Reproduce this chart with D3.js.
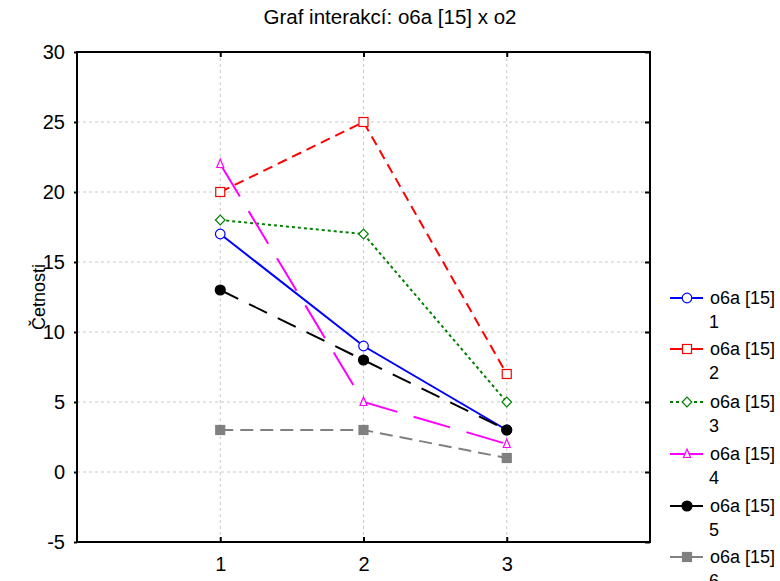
<!DOCTYPE html>
<html><head><meta charset="utf-8">
<script src="https://cdn.jsdelivr.net/npm/d3@7"></script>
<style>body{margin:0;background:#fff}svg{display:block;font-family:"Liberation Sans",Arial,sans-serif}</style>
</head><body><svg id="c" width="780" height="581"></svg>
<script>
const categories = [1, 2, 3];
const s1 = [17, 9, 3];
const s2 = [20, 25, 7];
const s3 = [18, 17, 5];
const s4 = [22, 5, 2];
const s5 = [13, 8, 3];
const s6 = [3, 3, 1];
const yTicks = [-5, 0, 5, 10, 15, 20, 25, 30];
const seriesNames = ["o6a [15]", "o6a [15]", "o6a [15]", "o6a [15]", "o6a [15]", "o6a [15]"];
const seriesSub = ["1", "2", "3", "4", "5", "6"];

const series = [
  {v: s1, color: "#0000ff", dash: null, marker: "circle", fill: "#fff"},
  {v: s2, color: "#ff0000", dash: "10,6", marker: "square", fill: "#fff"},
  {v: s3, color: "#008000", dash: "3,3", marker: "diamond", fill: "#fff"},
  {v: s4, color: "#ff00ff", dash: "38,17", marker: "triangle", fill: "#fff"},
  {v: s5, color: "#000000", dash: "20,12", marker: "circle", fill: "#000"},
  {v: s6, color: "#808080", dash: "13,7", marker: "square", fill: "#808080"}
];

const svg = d3.select("#c");
const L = 77, R = 650, T = 52, B = 542;
const x = d3.scaleLinear().domain([0, 4]).range([L, R]);
const y = d3.scaleLinear().domain([-5, 30]).range([B, T]);

// grid
const g = svg.append("g");
g.selectAll(".gy").data(yTicks.slice(1, -1)).join("line")
  .attr("x1", L).attr("x2", R).attr("y1", d => y(d)).attr("y2", d => y(d))
  .attr("stroke", "#c8c8c8").attr("stroke-width", 1).attr("stroke-dasharray", "3,3");
g.selectAll(".gx").data(categories).join("line")
  .attr("x1", d => x(d)).attr("x2", d => x(d)).attr("y1", T).attr("y2", B)
  .attr("stroke", "#c8c8c8").attr("stroke-width", 1).attr("stroke-dasharray", "3,3");

// axes
const fmt = d => String(d);
const yAxis = d3.axisLeft(y).tickValues(yTicks).tickSize(3).tickPadding(9).tickFormat(fmt);
const ya = svg.append("g").attr("transform", `translate(${L},0)`).call(yAxis);
const xAxis = d3.axisBottom(x).tickValues(categories).tickSize(-5).tickPadding(15).tickFormat(fmt);
const xa = svg.append("g").attr("transform", `translate(0,${B})`).call(xAxis);
const xTop = d3.axisTop(x).tickValues(categories).tickSize(-5).tickFormat("");
const xt = svg.append("g").attr("transform", `translate(0,${T})`).call(xTop);
const yRight = d3.axisRight(y).tickValues(yTicks).tickSize(-5).tickFormat("");
const yr = svg.append("g").attr("transform", `translate(${R},0)`).call(yRight);
[ya, xa, xt, yr].forEach(a => {
  a.attr("font-size", 20).attr("font-family", "Liberation Sans, Arial, sans-serif");
  a.select(".domain").remove();
  a.selectAll("line").attr("stroke", "#000").attr("stroke-width", 2);
  a.selectAll("text").attr("fill", "#000");
});
svg.append("rect").attr("x", L).attr("y", T).attr("width", R - L).attr("height", B - T)
  .attr("fill", "none").attr("stroke", "#000").attr("stroke-width", 2);

// title
svg.append("text").attr("x", 390).attr("y", 24).attr("text-anchor", "middle")
  .attr("font-size", 20.5).text("Graf interakcí: o6a [15] x o2");
svg.append("text").attr("transform", "translate(45,297) rotate(-90)").attr("text-anchor", "middle")
  .attr("font-size", 18).text("Četnosti");

function marker(sel, type, cx, cy, color, fill) {
  if (type === "circle") {
    sel.append("circle").attr("cx", cx).attr("cy", cy).attr("r", fill === "#fff" ? 4.8 : 5)
      .attr("fill", fill).attr("stroke", color).attr("stroke-width", 1.2);
  } else if (type === "square") {
    const s = 9;
    sel.append("rect").attr("x", cx - s / 2).attr("y", cy - s / 2).attr("width", s).attr("height", s)
      .attr("fill", fill).attr("stroke", color).attr("stroke-width", 1.2);
  } else if (type === "diamond") {
    sel.append("path").attr("d", `M${cx},${cy - 4.8}L${cx + 4.8},${cy}L${cx},${cy + 4.8}L${cx - 4.8},${cy}Z`)
      .attr("fill", fill).attr("stroke", color).attr("stroke-width", 1.2);
  } else if (type === "triangle") {
    sel.append("path").attr("d", `M${cx},${cy - 5}L${cx + 3.5},${cy + 3.5}L${cx - 3.5},${cy + 3.5}Z`)
      .attr("fill", fill).attr("stroke", color).attr("stroke-width", 1.2);
  }
}

const line = d3.line().x((d, i) => x(categories[i])).y(d => y(d));
const plot = svg.append("g");
series.forEach(s => {
  plot.append("path").attr("d", line(s.v)).attr("fill", "none").attr("stroke", s.color)
    .attr("stroke-width", 2).attr("stroke-dasharray", s.dash);
});
series.forEach(s => {
  s.v.forEach((v, i) => marker(plot, s.marker, x(categories[i]), y(v), s.color, s.fill));
});

// legend
const lg = svg.append("g");
const legY = [298, 349, 402, 454, 506, 557];
series.forEach((s, i) => {
  const ly = legY[i];
  lg.append("line").attr("x1", 670).attr("x2", 703).attr("y1", ly).attr("y2", ly)
    .attr("stroke", s.color).attr("stroke-width", 2).attr("stroke-dasharray", i === 2 ? "3,3" : null);
  marker(lg, s.marker, 687, ly, s.color, s.fill);
  lg.append("text").attr("x", 710).attr("y", ly + 6).attr("font-size", 18).text(seriesNames[i]);
  lg.append("text").attr("x", 709).attr("y", ly + 30).attr("font-size", 18).text(seriesSub[i]);
});
</script></body></html>
